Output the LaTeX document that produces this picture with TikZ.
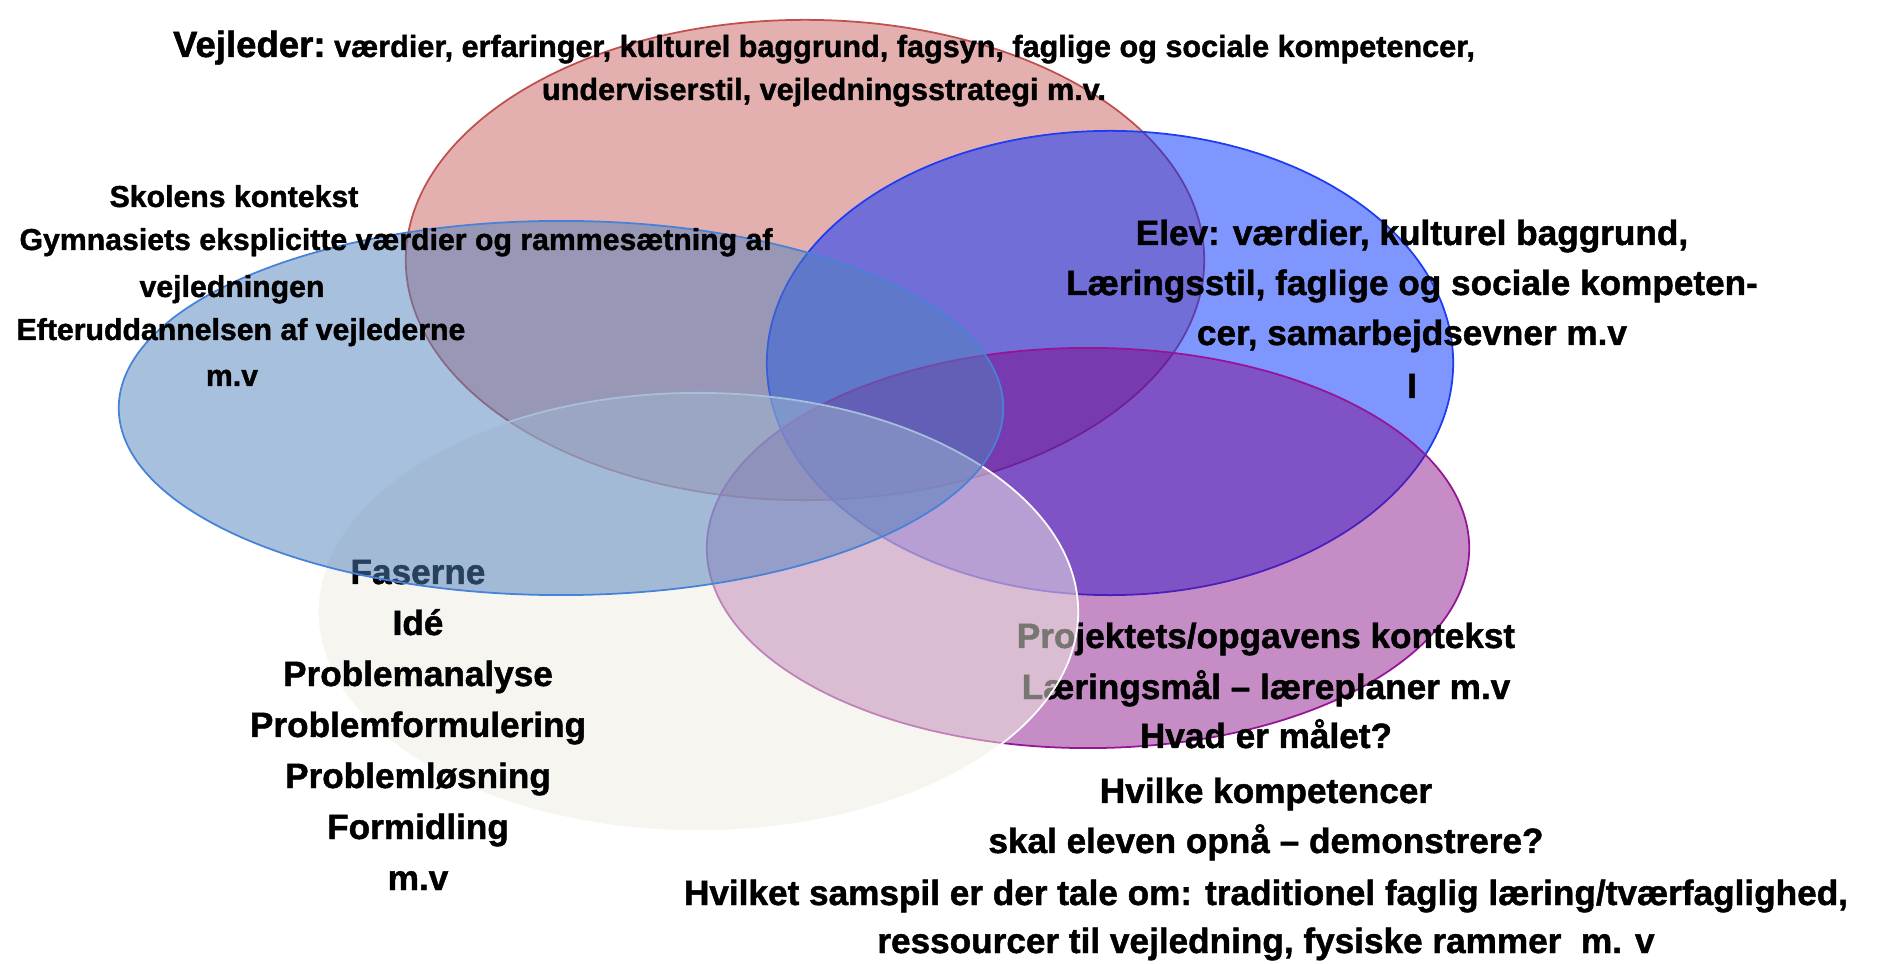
\documentclass[tikz,border=0pt]{standalone}
\usepackage{fontspec}
\setmainfont{Liberation Sans}[BoldFeatures={FakeBold=1.3}]
\usepackage{xcolor}

\definecolor{vejlederred}{RGB}{192,80,77}
\definecolor{skoleblue}{RGB}{79,129,189}
\definecolor{skoleline}{RGB}{70,130,215}
\definecolor{elevblue}{RGB}{0,45,255}
\definecolor{elevline}{RGB}{30,60,240}
\definecolor{projpurple}{RGB}{128,0,128}
\definecolor{projline}{RGB}{150,20,150}
\definecolor{faselight}{RGB}{238,236,225}

\tikzset{
  rundtxt/.style={anchor=base, inner sep=0pt, font=\bfseries\fontsize{10}{12}\selectfont},
  skoletxt/.style={rundtxt, font=\bfseries\fontsize{8.6}{10}\selectfont},
  feltline/.style={line width=0.5pt},
}

\begin{document}
\begin{tikzpicture}[x=0.01cm,y=-0.01cm]

      \useasboundingbox (0,0) rectangle (1878,964);

      % Vejleder og elev
      \filldraw[feltline, fill=vejlederred, fill opacity=0.45, draw=vejlederred] (805,260) ellipse [x radius=3.99cm, y radius=2.40cm];
      \filldraw[feltline, fill=elevblue, fill opacity=0.5, draw=elevline] (1110,363) ellipse [x radius=3.43cm, y radius=2.32cm];

      % Projektets kontekst
      \filldraw[feltline, fill=projpurple, fill opacity=0.45, draw=projline] (1088,548) ellipse [x radius=3.81cm, y radius=2.00cm];
      \node[rundtxt] (projekt1) at (1266,648) {Projektets/opgavens kontekst};
      \node[rundtxt] (projekt2) at (1266,699) {Læringsmål – læreplaner m.v};
      \node[rundtxt] (projekt3) at (1266,748) {Hvad er målet?};
      \node[rundtxt] (projekt4) at (1266,803) {Hvilke kompetencer};
      \node[rundtxt] (projekt5) at (1266,853) {skal eleven opnå – demonstrere?};
      \node[rundtxt] (projekt6) at (1266,905) {Hvilket samspil er der tale om: traditionel faglig læring/tværfaglighed,};
      \node[rundtxt] (projekt7) at (1266,953) {ressourcer til vejledning, fysiske rammer~~m. v};

      % Faserne
      \filldraw[feltline, fill=faselight, fill opacity=0.5, draw=white] (698,612) ellipse [x radius=3.80cm, y radius=2.19cm];
      \foreach \txt [count=\i] in {Faserne, Idé, Problemanalyse, Problemformulering, Problemløsning, Formidling, m.v}
      {
        \node[rundtxt] (fase\i) at (418,{584+51*(\i-1)}) {\txt};
      }

      % Skolens kontekst
      \filldraw[feltline, fill=skoleblue, fill opacity=0.5, draw=skoleline] (561,408) ellipse [x radius=4.42cm, y radius=1.87cm];
      \node[skoletxt] (skole1) at (234,207) {Skolens kontekst};
      \node[skoletxt] (skole2) at (396,250) {Gymnasiets eksplicitte værdier og rammesætning af};
      \node[skoletxt] (skole3) at (232,297) {vejledningen};
      \node[skoletxt] (skole4) at (241,340) {Efteruddannelsen af vejlederne};
      \node[skoletxt] (skole5) at (232,386) {m.v};

      % Vejleder tekst
      \node[rundtxt] (vejleder1) at (824,57) {{\fontsize{10.4}{12}\selectfont Vejleder:}{\fontsize{8.7}{10}\selectfont\ værdier, erfaringer, kulturel baggrund, fagsyn, faglige og sociale kompetencer,}};
      \node[rundtxt, font=\bfseries\fontsize{8.7}{10}\selectfont] (vejleder2) at (824,100) {underviserstil, vejledningsstrategi m.v.};

      % Elev tekst
      \node[rundtxt] (elev1) at (1412,245) {Elev: værdier, kulturel baggrund,};
      \node[rundtxt] (elev2) at (1412,295) {Læringsstil, faglige og sociale kompeten-};
      \node[rundtxt] (elev3) at (1412,345) {cer, samarbejdsevner m.v};
      \node[rundtxt] (elev4) at (1412,398) {I};

\end{tikzpicture}
\end{document}
